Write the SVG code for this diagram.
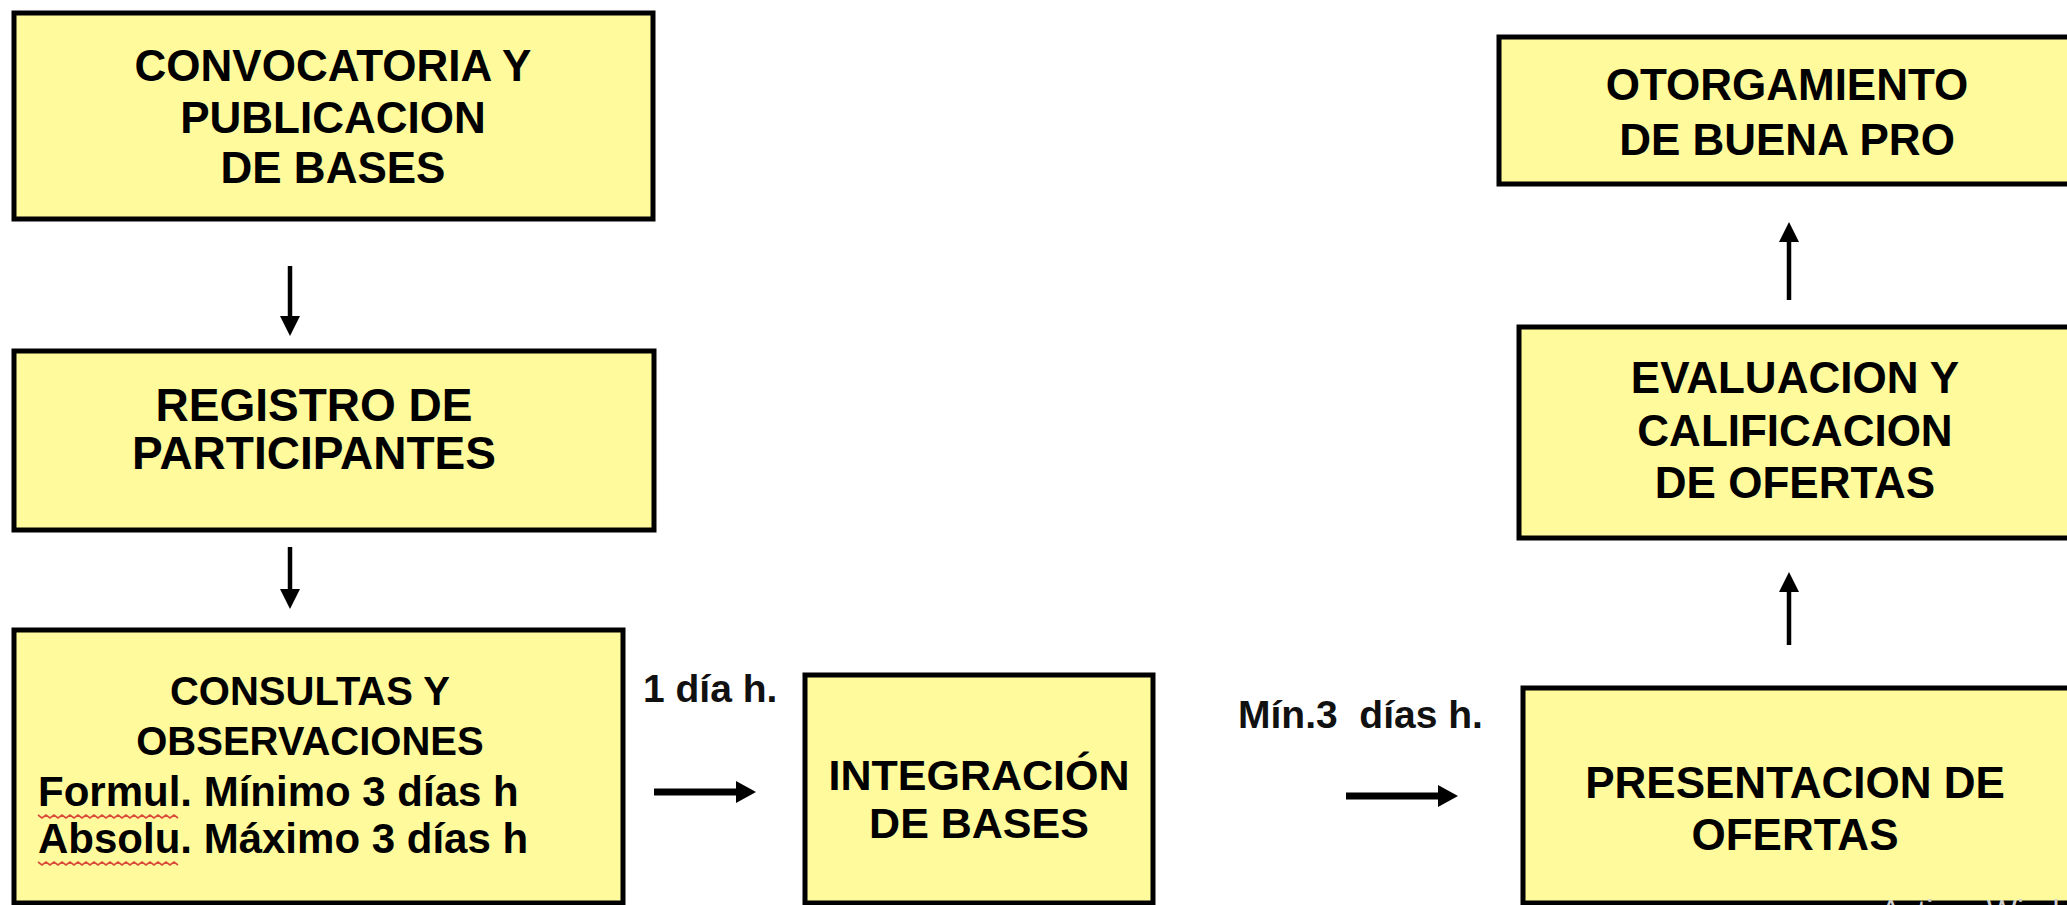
<svg xmlns="http://www.w3.org/2000/svg" width="2067" height="905" viewBox="0 0 2067 905">
  <style>
    .box { fill: #FFFA9C; stroke: #000; stroke-width: 5; }
    .t { font-family: "Liberation Sans", Arial, sans-serif; font-weight: bold; font-size: 44px; fill: #000; text-anchor: middle; }
    .t2 { font-family: "Liberation Sans", Arial, sans-serif; font-weight: bold; font-size: 40px; fill: #000; text-anchor: middle; }
    .s { font-family: "Liberation Sans", Arial, sans-serif; font-weight: bold; font-size: 42px; fill: #000; }
    .lbl { font-family: "Liberation Sans", Arial, sans-serif; font-weight: bold; font-size: 39px; fill: #111; white-space: pre; }
    .cv { stroke: #000; stroke-width: 4.5; fill: none; marker-end: url(#headV); }
    .ch { stroke: #000; stroke-width: 7; fill: none; marker-end: url(#headH); }
    .sq { stroke: #d94a3a; stroke-width: 1.6; fill: none; }
    .wm { font-family: "Liberation Sans", Arial, sans-serif; font-size: 32px; fill: #cfcfcf; }
  </style>
  <defs>
    <marker id="headV" viewBox="0 0 20 20" refX="2" refY="10" markerWidth="20" markerHeight="20" markerUnits="userSpaceOnUse" orient="auto">
      <path d="M0,0 L20,10 L0,20 z" fill="#000"/>
    </marker>
    <marker id="headH" viewBox="0 0 20 22" refX="2" refY="11" markerWidth="20" markerHeight="22" markerUnits="userSpaceOnUse" orient="auto">
      <path d="M0,0 L20,11 L0,22 z" fill="#000"/>
    </marker>
  </defs>
  <rect width="2067" height="905" fill="#fff"/>

  <g id="convocatoria">
    <rect class="box" x="14" y="13" width="639" height="206"/>
    <text class="t" x="333" y="81">CONVOCATORIA Y</text>
    <text class="t" x="333" y="133">PUBLICACION</text>
    <text class="t" x="333" y="183">DE BASES</text>
  </g>

  <g id="registro">
    <rect class="box" x="14" y="351" width="640" height="179"/>
    <text class="t" x="314" y="421" style="font-size:46px">REGISTRO DE</text>
    <text class="t" x="314" y="469" style="font-size:46px">PARTICIPANTES</text>
  </g>

  <g id="consultas">
    <rect class="box" x="14" y="630" width="609" height="273"/>
    <text class="t2" x="310" y="705">CONSULTAS Y</text>
    <text class="t2" x="310" y="755">OBSERVACIONES</text>
    <text class="s" x="38" y="806">Formul. Mínimo 3 días h</text>
    <text class="s" x="38" y="853">Absolu. Máximo 3 días h</text>
    <path class="sq" d="M38,815 l4,3 l4,-3 l4,3 l4,-3 l4,3 l4,-3 l4,3 l4,-3 l4,3 l4,-3 l4,3 l4,-3 l4,3 l4,-3 l4,3 l4,-3 l4,3 l4,-3 l4,3 l4,-3 l4,3 l4,-3 l4,3 l4,-3 l4,3 l4,-3 l4,3 l4,-3 l4,3 l4,-3 l4,3 l4,-3 l4,3 l4,-3 l4,3"/>
    <path class="sq" d="M38,862 l4,3 l4,-3 l4,3 l4,-3 l4,3 l4,-3 l4,3 l4,-3 l4,3 l4,-3 l4,3 l4,-3 l4,3 l4,-3 l4,3 l4,-3 l4,3 l4,-3 l4,3 l4,-3 l4,3 l4,-3 l4,3 l4,-3 l4,3 l4,-3 l4,3 l4,-3 l4,3 l4,-3 l4,3 l4,-3 l4,3 l4,-3 l4,3"/>
  </g>

  <g id="integracion">
    <rect class="box" x="805" y="675" width="348" height="228"/>
    <text class="t" x="979" y="790" style="font-size:43px">INTEGRACIÓN</text>
    <text class="t" x="979" y="838" style="font-size:43px">DE BASES</text>
  </g>

  <g id="presentacion">
    <rect class="box" x="1523" y="688" width="560" height="215"/>
    <text class="t" x="1795" y="798">PRESENTACION DE</text>
    <text class="t" x="1795" y="850">OFERTAS</text>
  </g>

  <g id="evaluacion">
    <rect class="box" x="1519" y="327" width="560" height="211"/>
    <text class="t" x="1795" y="393">EVALUACION Y</text>
    <text class="t" x="1795" y="446">CALIFICACION</text>
    <text class="t" x="1795" y="498">DE OFERTAS</text>
  </g>

  <g id="otorgamiento">
    <rect class="box" x="1499" y="37" width="580" height="147"/>
    <text class="t" x="1787" y="100">OTORGAMIENTO</text>
    <text class="t" x="1787" y="155">DE BUENA PRO</text>
  </g>

  <g id="connectors">
    <line class="cv" x1="290" y1="266" x2="290" y2="318"/>
    <line class="cv" x1="290" y1="547" x2="290" y2="591"/>
    <line class="ch" x1="654" y1="792" x2="738" y2="792"/>
    <text class="lbl" x="643" y="702">1 día h.</text>
    <line class="ch" x1="1346" y1="796" x2="1440" y2="796"/>
    <text class="lbl" x="1238" y="728">Mín.3  días h.</text>
    <line class="cv" x1="1789" y1="645" x2="1789" y2="590"/>
    <line class="cv" x1="1789" y1="300" x2="1789" y2="240"/>
  </g>

  <text class="wm" x="1880" y="922">Activar Windows</text>
</svg>
